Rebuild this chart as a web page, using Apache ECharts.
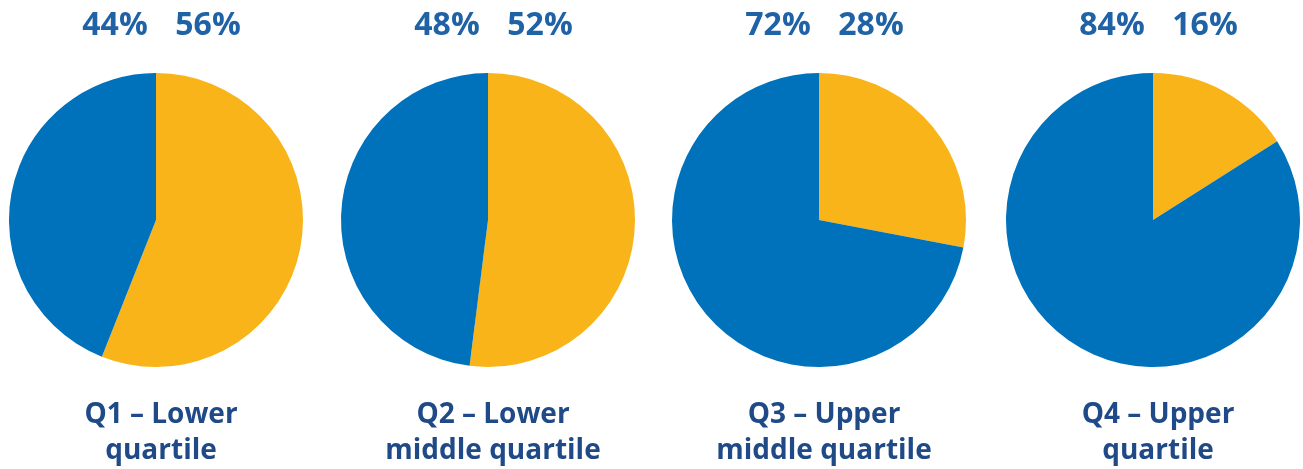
<!DOCTYPE html>
<html><head><meta charset="utf-8">
<script src="https://cdn.jsdelivr.net/npm/echarts@6/dist/echarts.min.js"></script>
<style>html,body{margin:0;padding:0;background:#fff}#c{width:1303px;height:469px}</style>
</head><body><div id="c"></div>
<script>
const categories = ['Q1 – Lower\nquartile', 'Q2 – Lower\nmiddle quartile', 'Q3 – Upper\nmiddle quartile', 'Q4 – Upper\nquartile'];
const blueValues = [44, 48, 72, 84];
const yellowValues = [56, 52, 28, 16];
const centersX = [156, 488, 819, 1153];
const centerY = 220;
const radius = 147;
const BLUE = '#0072BC', YELLOW = '#F8B418';
const PCT = '#1F62A6', LABEL = '#1F4A87';
const FONT = 'Open Sans';

const chart = echarts.init(document.getElementById('c'), null, {renderer: 'canvas'});
const series = [];
const titles = [];
categories.forEach((cat, i) => {
  series.push({
    type: 'pie', radius: radius, center: [centersX[i], centerY],
    startAngle: 90, clockwise: true, silent: true, animation: false,
    label: {show: false}, labelLine: {show: false},
    itemStyle: {borderWidth: 0},
    data: [
      {name: 'yellow', value: yellowValues[i], itemStyle: {color: YELLOW}},
      {name: 'blue', value: blueValues[i], itemStyle: {color: BLUE}}
    ]
  });
  titles.push({
    text: blueValues[i] + '%', left: centersX[i] - 46, top: 5, textAlign: 'center',
    textStyle: {color: PCT, fontFamily: FONT, fontWeight: 'bold', fontSize: 32}
  });
  titles.push({
    text: yellowValues[i] + '%', left: centersX[i] + 47, top: 5, textAlign: 'center',
    textStyle: {color: PCT, fontFamily: FONT, fontWeight: 'bold', fontSize: 32}
  });
  titles.push({
    text: cat, left: centersX[i], top: 392, textAlign: 'center',
    textStyle: {color: LABEL, fontFamily: FONT, fontWeight: 'bold', fontSize: 28, lineHeight: 36}
  });
});
chart.setOption({animation: false, title: titles, series: series});
</script></body></html>
